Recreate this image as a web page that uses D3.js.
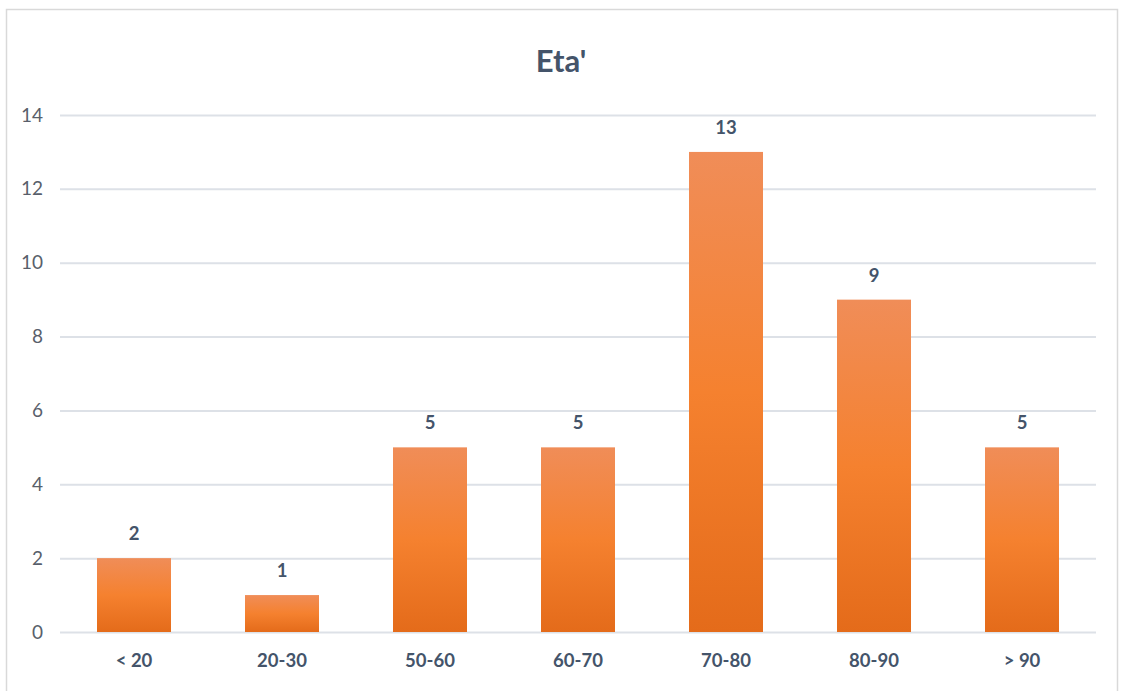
<!DOCTYPE html>
<html>
<head>
<meta charset="utf-8">
<script src="https://cdn.jsdelivr.net/npm/d3@7"></script>
<style>
  body { margin: 0; background: #fff; }
  svg { display: block; font-family: Lato, "Open Sans", sans-serif; }
</style>
</head>
<body>
<script>
var svgW = 1121;
var svgH = 691;

// data
var categories = ["< 20", "20-30", "50-60", "60-70", "70-80", "80-90", "> 90"];
var values = [2, 1, 5, 5, 13, 9, 5];
var yTicks = [0, 2, 4, 6, 8, 10, 12, 14];
var title = "Eta'";

var margin = { top: 115, right: 25, bottom: 59, left: 60 };
var chartWidth = svgW - margin.left - margin.right;
var chartHeight = svgH - margin.top - margin.bottom;

var svg = d3.select("body")
  .append("svg")
  .attr("width", svgW)
  .attr("height", svgH);

// frame
svg.append("rect")
  .attr("x", 6.5)
  .attr("y", 9.5)
  .attr("width", 1111)
  .attr("height", 700)
  .attr("fill", "#fff")
  .attr("stroke", "#d9d9d9")
  .attr("stroke-width", 1.5);

var defs = svg.append("defs");
var grad = defs.append("linearGradient")
  .attr("id", "barGrad")
  .attr("x1", 0).attr("y1", 0)
  .attr("x2", 0).attr("y2", 1);
grad.append("stop").attr("offset", "0%").attr("stop-color", "#f08d58");
grad.append("stop").attr("offset", "50%").attr("stop-color", "#f5812f");
grad.append("stop").attr("offset", "100%").attr("stop-color", "#e46b1a");

svg.append("text")
  .attr("x", 561)
  .attr("y", 72)
  .attr("text-anchor", "middle")
  .attr("font-size", 31)
  .attr("font-weight", "bold")
  .attr("fill", "#44546a")
  .text(title);

var g = svg.append("g")
  .attr("transform", "translate(" + margin.left + "," + margin.top + ")");

var xScale = d3.scaleBand()
  .domain(categories)
  .range([0, chartWidth])
  .paddingInner(0.5)
  .paddingOuter(0.25);

var yScale = d3.scaleLinear()
  .domain([0, 14])
  .range([chartHeight, 0]);

// gridlines + y labels
var yAxis = d3.axisLeft(yScale)
  .tickValues(yTicks)
  .tickSize(-chartWidth)
  .tickPadding(17);

var yg = g.append("g").attr("class", "yAxis").call(yAxis);
yg.select(".domain").remove();
yg.selectAll("line").attr("stroke", "#dde1e7").attr("stroke-width", 2);
yg.selectAll("text")
  .attr("font-size", 19)
  .attr("fill", "#595f6b")
  .attr("font-family", "Lato, sans-serif");

// bars
g.selectAll(".bar")
  .data(values)
  .enter()
  .append("rect")
  .attr("class", "bar")
  .attr("x", function (d, i) { return xScale(categories[i]); })
  .attr("y", function (d) { return yScale(d); })
  .attr("width", xScale.bandwidth())
  .attr("height", function (d) { return chartHeight - yScale(d); })
  .attr("fill", "url(#barGrad)");

// value labels
g.selectAll(".val")
  .data(values)
  .enter()
  .append("text")
  .attr("class", "val")
  .attr("x", function (d, i) { return xScale(categories[i]) + xScale.bandwidth() / 2; })
  .attr("y", function (d) { return yScale(d) - 18; })
  .attr("text-anchor", "middle")
  .attr("font-size", 18.5)
  .attr("font-weight", "bold")
  .attr("fill", "#44546a")
  .text(function (d) { return d; });

// x axis
var xAxis = d3.axisBottom(xScale).tickSize(0).tickPadding(22);
var xg = g.append("g")
  .attr("class", "xAxis")
  .attr("transform", "translate(0," + chartHeight + ")")
  .call(xAxis);
xg.select(".domain").remove();
xg.selectAll("text")
  .attr("font-size", 18.5)
  .attr("font-weight", "bold")
  .attr("fill", "#44546a")
  .attr("font-family", "Lato, sans-serif");
</script>
</body>
</html>
